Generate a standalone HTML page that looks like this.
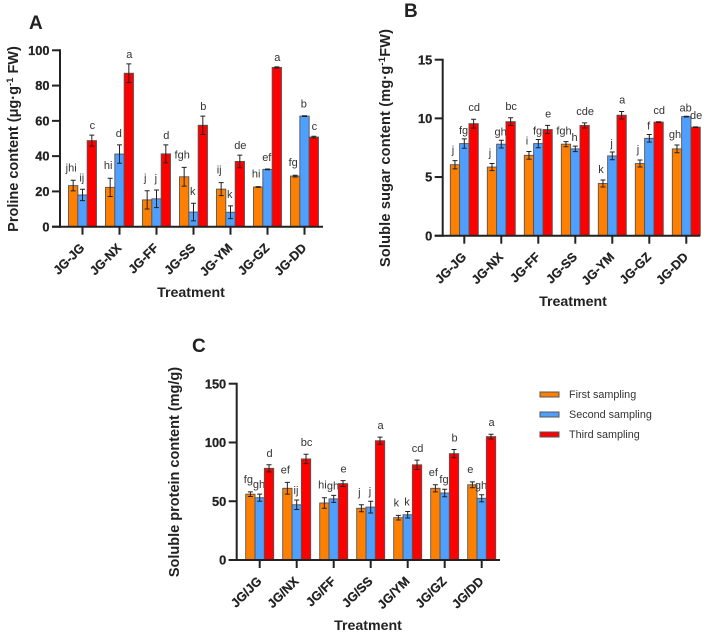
<!DOCTYPE html>
<html lang="en">
<head>
<meta charset="utf-8">
<title>Proline, sugar and protein content</title>
<style>
html,body{margin:0;padding:0;background:#fff;width:709px;height:634px;overflow:hidden}
svg{display:block}
text{font-family:"Liberation Sans",Arial,sans-serif;fill:#222}
.tick{font-size:12.8px;font-weight:bold;stroke:#222;stroke-width:.25px}
.xtick{font-size:12.6px;font-weight:bold;stroke:#222;stroke-width:.25px}
.title{font-size:14.5px;font-weight:bold}
.xtitle{font-size:14.2px;font-weight:bold}
.panel{font-size:19px;font-weight:bold}
.sig{font-size:11px;fill:#333}
.leg{font-size:10.8px;fill:#333}
</style>
</head>
<body>
<svg id="figure" xmlns="http://www.w3.org/2000/svg" width="709" height="634" viewBox="0 0 709 634">
  <text class="panel" x="29" y="29">A</text>
  <text class="panel" x="404" y="17">B</text>
  <text class="panel" x="192" y="352">C</text>

  <text class="title" transform="translate(18,139) rotate(-90)" text-anchor="middle">Proline content (μg·g<tspan font-size="9.5" dy="-5">-1</tspan><tspan dy="5"> FW)</tspan></text>
  <text class="title" transform="translate(390,148) rotate(-90)" text-anchor="middle" textLength="238">Soluble sugar content (mg·g<tspan font-size="9.5" dy="-5">-1</tspan><tspan dy="5">FW)</tspan></text>
  <text class="title" transform="translate(179,472) rotate(-90)" text-anchor="middle">Soluble protein content (mg/g)</text>

  <text class="xtitle" x="191" y="297" text-anchor="middle">Treatment</text>
  <text class="xtitle" x="573" y="306" text-anchor="middle">Treatment</text>
  <text class="xtitle" x="368" y="630" text-anchor="middle">Treatment</text>

  <g>
    <g>
      <rect x="540" y="392" width="19" height="5" fill="#ff8000" stroke="#555" stroke-width="1"/>
      <text class="leg" x="569" y="398">First sampling</text>
    </g>
    <g>
      <rect x="540" y="412" width="19" height="5" fill="#4f9fff" stroke="#555" stroke-width="1"/>
      <text class="leg" x="569" y="418">Second sampling</text>
    </g>
    <g>
      <rect x="540" y="432" width="19" height="5" fill="#ff0000" stroke="#555" stroke-width="1"/>
      <text class="leg" x="569" y="438">Third sampling</text>
    </g>
  </g>
</svg>
<script>
// Panel A: proline content
const categoriesA = ['JG-JG','JG-NX','JG-FF','JG-SS','JG-YM','JG-GZ','JG-DD'];
const ticksA = [0,20,40,60,80,100];
const firstA = [23.3,22.3,15.2,28.3,21.3,22.5,28.7];
const firstErrA = [3,5.2,5.2,5.3,3.7,0.2,0.5];
const firstSigA = ['jhi','hi','j','fgh','ij','hi','fg'];
const secondA = [18,41.2,15.8,8.3,8.2,32.5,62.7];
const secondErrA = [3.2,5.2,5,5,3.6,0.2,0.2];
const secondSigA = ['ij','d','j','k','k','ef','b'];
const thirdA = [48.8,87,41.3,57.5,37,90.3,50.8];
const thirdErrA = [3.1,5.3,5.1,5.2,3.6,0.3,0.5];
const thirdSigA = ['c','a','d','b','de','a','c'];

// Panel B: soluble sugar content
const categoriesB = ['JG-JG','JG-NX','JG-FF','JG-SS','JG-YM','JG-GZ','JG-DD'];
const ticksB = [0,5,10,15];
const firstB = [6.05,5.85,6.85,7.8,4.45,6.15,7.4];
const firstErrB = [0.35,0.3,0.33,0.22,0.3,0.3,0.33];
const firstSigB = ['j','j','i','fgh','k','j','gh'];
const secondB = [7.85,7.8,7.85,7.4,6.8,8.3,10.15];
const secondErrB = [0.4,0.33,0.35,0.23,0.33,0.33,0.03];
const secondSigB = ['fg','gh','fg','h','j','f','ab'];
const thirdB = [9.55,9.72,9.05,9.4,10.27,9.68,9.25];
const thirdErrB = [0.38,0.33,0.35,0.22,0.32,0.03,0.03];
const thirdSigB = ['cd','bc','e','cde','a','cd','de'];

// Panel C: soluble protein content
const categoriesC = ['JG/JG','JG/NX','JG/FF','JG/SS','JG/YM','JG/GZ','JG/DD'];
const ticksC = [0,50,100,150];
const firstC = [56,61,48.5,44,36,61,64];
const firstErrC = [2,5,4.5,3,2,3,2.5];
const firstSigC = ['fg','ef','hi','j','k','ef','e'];
const secondC = [53,47,52,45,38.5,57,52.5];
const secondErrC = [3,4,3,5,2.8,3.2,3];
const secondSigC = ['gh','ij','gh','j','k','fg','gh'];
const thirdC = [78,86,65,101.5,81,90.5,105];
const thirdErrC = [3,4,2.5,3,4,3.5,2];
const thirdSigC = ['d','bc','e','a','cd','b','a'];

const NS = 'http://www.w3.org/2000/svg';
const fig = document.getElementById('figure');
const seriesColors = ['#ff8000','#4f9fff','#ff0000'];
const seriesNames = ['first','second','third'];

function node(tag, parent, attrs) {
  const el = document.createElementNS(NS, tag);
  for (const k in attrs) el.setAttribute(k, attrs[k]);
  parent.appendChild(el);
  return el;
}

function sigGap(panel, s) {
  if (panel === 'a') return s === 0 ? 9 : s === 1 ? 8 : 6;
  if (panel === 'b') return s === 0 ? 7 : s === 1 ? 5 : 8;
  return s === 0 ? 9 : s === 1 ? 6 : 8;
}

function sigShift(s) {
  return s === 0 ? -2 : s === 1 ? -0.7 : 0.5;
}

function drawChart(panel, box, categories, ticks, values, errors, sigs) {
  const g = node('g', fig, {});
  
  

  const maxTick = ticks[ticks.length - 1];
  const yScale = v => box.y0 - (v / maxTick) * (box.y0 - box.yTop);
  const barW = 9.33;
  const groupW = 37;
  const xScale = (c, s) => box.firstBar + c * groupW + s * barW;

  values.forEach((series, s) => {
    series.forEach((v, c) => {
      const x = xScale(c, s);
      const y = yScale(v);
      const bar = node('rect', g, {x: x, y: y, width: barW, height: box.y0 - y, fill: seriesColors[s], stroke: '#555', 'stroke-width': 0.9});
      
      

      const cx = x + barW / 2;
      const top = yScale(v + errors[s][c]);
      const bottom = yScale(v - errors[s][c]);
      const err = node('path', g, {d: 'M' + cx + ' ' + top + 'V' + bottom + 'M' + (cx - 2.5) + ' ' + top + 'H' + (cx + 2.5) + 'M' + (cx - 2.5) + ' ' + bottom + 'H' + (cx + 2.5), stroke: '#222', 'stroke-width': 1, fill: 'none'});
      
      

      const sig = node('text', g, {x: cx + sigShift(s), y: top - sigGap(panel, s), 'text-anchor': 'middle', class: 'sig'});
      sig.textContent = sigs[s][c];
      
      
    });
  });

  const yAxis = node('line', g, {x1: box.axisX, x2: box.axisX, y1: box.yTop - 1, y2: box.y0 + 1, stroke: '#222', 'stroke-width': 2});
  
  
  const xAxis = node('line', g, {x1: box.axisX - 8, x2: box.axisEnd, y1: box.y0, y2: box.y0, stroke: '#222', 'stroke-width': 2});
  
  

  ticks.forEach(t => {
    const y = yScale(t);
    node('line', g, {x1: box.axisX - 8, x2: box.axisX, y1: y, y2: y, stroke: '#222', 'stroke-width': 2});
    const label = node('text', g, {x: box.axisX - 10.5, y: y + 4.6, 'text-anchor': 'end', class: 'tick'});
    label.textContent = t;
    
    
  });

  categories.forEach((name, c) => {
    const x = xScale(c, 1) + barW / 2;
    node('line', g, {x1: x, x2: x, y1: box.y0, y2: box.y0 + 8, stroke: '#222', 'stroke-width': 2});
    const lx = x + 2.7;
    const ly = box.y0 + 22;
    const label = node('text', g, {transform: 'translate(' + lx + ',' + ly + ') rotate(-45)', 'text-anchor': 'end', class: 'xtick'});
    label.textContent = name;
    
    
  });
}

drawChart('a', {axisX: 60, axisEnd: 323, y0: 226.7, yTop: 50.3, firstBar: 68.5}, categoriesA, ticksA,
  [firstA, secondA, thirdA], [firstErrA, secondErrA, thirdErrA], [firstSigA, secondSigA, thirdSigA]);
drawChart('b', {axisX: 442.7, axisEnd: 700, y0: 235.7, yTop: 59.7, firstBar: 450.3}, categoriesB, ticksB,
  [firstB, secondB, thirdB], [firstErrB, secondErrB, thirdErrB], [firstSigB, secondSigB, thirdSigB]);
drawChart('c', {axisX: 236.7, axisEnd: 500, y0: 560, yTop: 383.7, firstBar: 245.7}, categoriesC, ticksC,
  [firstC, secondC, thirdC], [firstErrC, secondErrC, thirdErrC], [firstSigC, secondSigC, thirdSigC]);
</script>
</body>
</html>
